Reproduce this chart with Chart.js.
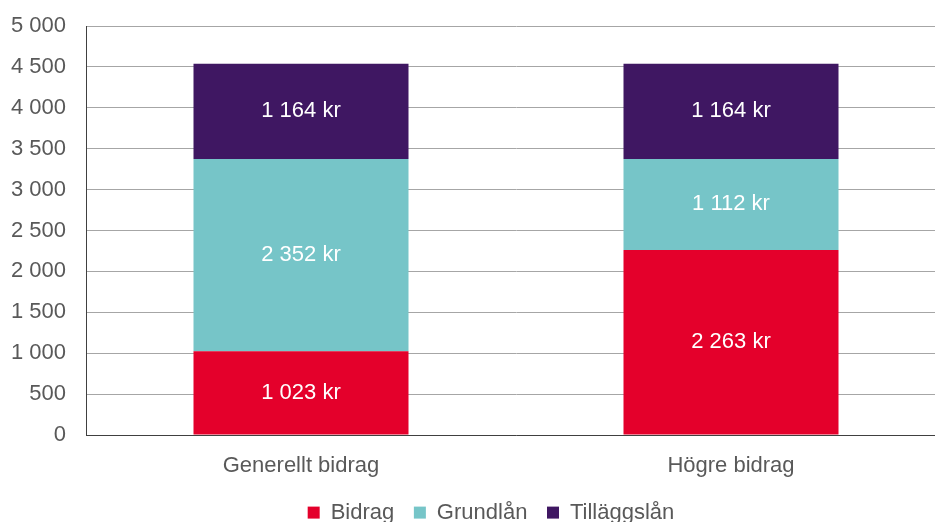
<!DOCTYPE html>
<html><head><meta charset="utf-8">
<script src="https://cdn.jsdelivr.net/npm/chart.js@4/dist/chart.umd.min.js"></script>
<style>html,body{margin:0;padding:0;background:#fff;overflow:hidden}#wrap{width:935px;height:523px;overflow:hidden}</style>
</head><body><div id="wrap"><canvas id="c" width="946" height="523"></canvas></div>
<script>
const categories = ['Generellt bidrag', 'Högre bidrag'];
const bidrag = [1023, 2263];
const grundlan = [2352, 1112];
const tillaggslan = [1164, 1164];
const seriesNames = ['Bidrag', 'Grundlån', 'Tilläggslån'];
const colors = ['#E4002B', '#76C5C8', '#3F1762'];
const FONT = '"Liberation Sans", Arial, sans-serif';

function fmt(v){ return String(v).replace(/\B(?=(\d{3})+(?!\d))/g, ' '); }

const labelPlugin = {
  id: 'segLabels',
  afterInit(chart){
    const lg = chart.legend;
    if (lg) {
      const orig = lg.fit.bind(lg);
      lg.fit = function(){ orig(); this.height = 40; };
    }
  },
  afterLayout(chart){
    const lg = chart.legend;
    if (lg) { lg.top -= 1; lg.bottom -= 1; lg.left += 18; lg.right += 18; }
  },
  afterDatasetsDraw(chart){
    const ctx = chart.ctx;
    ctx.save();
    ctx.fillStyle = '#fff';
    ctx.font = '22px ' + FONT;
    ctx.textAlign = 'center';
    ctx.textBaseline = 'middle';
    chart.data.datasets.forEach((ds, i) => {
      const meta = chart.getDatasetMeta(i);
      meta.data.forEach((el, j) => {
        const y = (el.y + el.base) / 2;
        ctx.fillText(fmt(ds.data[j]) + ' kr', el.x, y);
      });
    });
    ctx.restore();
  }
};

new Chart(document.getElementById('c'), {
  type: 'bar',
  data: {
    labels: categories,
    datasets: [
      {label: seriesNames[0], data: bidrag, backgroundColor: colors[0]},
      {label: seriesNames[1], data: grundlan, backgroundColor: colors[1]},
      {label: seriesNames[2], data: tillaggslan, backgroundColor: colors[2]}
    ]
  },
  options: {
    responsive: false,
    animation: false,
    layout: {padding: {top: 26, right: 0, bottom: 0, left: 0}},
    datasets: {bar: {categoryPercentage: 1.0, barPercentage: 0.5}},
    plugins: {
      tooltip: {enabled: false},
      legend: {
        position: 'bottom',
        labels: {
          boxWidth: 12, boxHeight: 12, padding: 19.6,
          color: '#595959',
          font: {family: FONT, size: 22}
        }
      }
    },
    scales: {
      x: {
        stacked: true,
        afterFit(s){ s.height = 48; },
        grid: {display: false, drawTicks: false},
        border: {display: true, color: '#404040', width: 1},
        ticks: {color: '#595959', padding: 18, font: {family: FONT, size: 22}}
      },
      y: {
        stacked: true,
        min: 0, max: 5000,
        afterFit(s){ s.width = 86; s.paddingTop = 0; s.paddingBottom = 0; },
        grid: {color: '#A6A6A6', lineWidth: 1, drawTicks: false},
        border: {display: true, color: '#404040', width: 1},
        ticks: {stepSize: 500, color: '#595959', padding: 20,
          font: {family: FONT, size: 22},
          callback: v => fmt(v)}
      }
    }
  },
  plugins: [labelPlugin]
});
</script></body></html>
